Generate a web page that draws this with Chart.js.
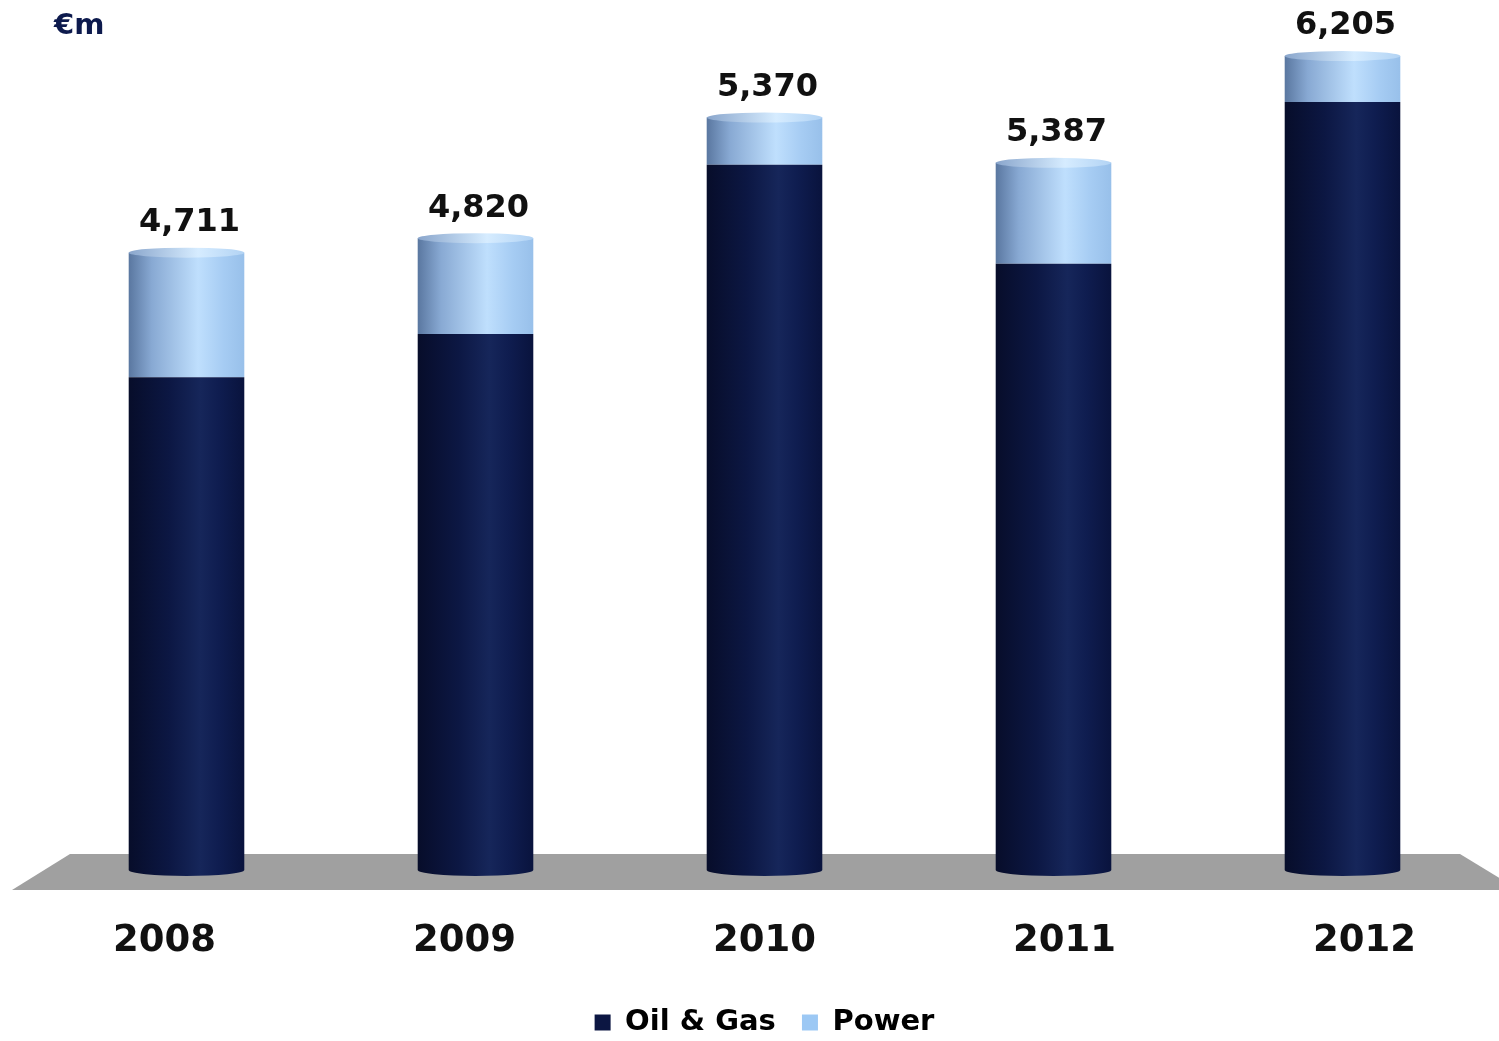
<!DOCTYPE html>
<html>
<head>
<meta charset="utf-8">
<script src="https://cdn.jsdelivr.net/npm/chart.js@4.4.1/dist/chart.umd.min.js"></script>
<style>
  html, body { margin: 0; padding: 0; background: #fff; }
  #wrap { width: 1499px; height: 1041px; position: relative; }
</style>
</head>
<body>
<div id="wrap"><canvas id="myChart"></canvas></div>
<script>
// values (bar heights), totals as printed above the bars
const years = ['2008', '2009', '2010', '2011', '2012'];
const oilGas = [3760, 4090, 5380, 4625, 5860];
const power = [950, 730, 360, 770, 350];
const totals = ['4,711', '4,820', '5,370', '5,387', '6,205'];

const FONT = "'DejaVu Sans', Verdana, sans-serif";
const darkStops = [[0, '#070d2a'], [0.35, '#0c1743'], [0.62, '#16265a'], [0.78, '#0f1d50'], [1, '#09133d']];
const lightStops = [[0, '#5a77a0'], [0.2, '#88a9d3'], [0.6, '#bfdffd'], [0.82, '#a6ccf3'], [1, '#98c0ea']];
const capStops = [[0, '#8aa6cc'], [0.6, '#d6ecff'], [1, '#b2d3f4']];

function barGradient(c, idx, stops) {
    const a = c.chartArea;
    if (!a || !c.scales.x) return stops[2][1];
    const x = c.scales.x.getPixelForValue(idx);
    const w = (a.width / years.length) * 0.4;
    const g = c.ctx.createLinearGradient(x - w / 2, 0, x + w / 2, 0);
    stops.forEach(s => g.addColorStop(s[0], s[1]));
    return g;
}

// grey floor under the bars
const floorPlugin = {
    id: 'floor',
    beforeDatasetsDraw(chart) {
        const { ctx, chartArea: a, width } = chart;
        ctx.save();
        ctx.fillStyle = '#a0a0a0';
        ctx.beginPath();
        ctx.moveTo(a.left + 28, a.bottom - 16);
        ctx.lineTo(a.right - 27, a.bottom - 16);
        ctx.lineTo(width + 20, a.bottom + 20);
        ctx.lineTo(a.left - 30, a.bottom + 20);
        ctx.closePath();
        ctx.fill();
        ctx.restore();
    }
};

// cylinder caps, value labels, year labels, unit
const decoPlugin = {
    id: 'deco',
    afterDatasetsDraw(chart) {
        const { ctx, chartArea: a } = chart;
        const bottomMeta = chart.getDatasetMeta(0);
        const topMeta = chart.getDatasetMeta(1);
        ctx.save();
        bottomMeta.data.forEach((el, i) => {
            const rx = el.width / 2;
            ctx.fillStyle = barGradient(chart, i, darkStops);
            ctx.beginPath();
            ctx.ellipse(el.x, el.base, rx, 6, 0, 0, Math.PI);
            ctx.fill();
        });
        topMeta.data.forEach((el, i) => {
            const rx = el.width / 2;
            ctx.fillStyle = barGradient(chart, i, capStops);
            ctx.beginPath();
            ctx.ellipse(el.x, el.y, rx, 5, 0, 0, Math.PI * 2);
            ctx.fill();

            ctx.fillStyle = '#111';
            ctx.font = 'bold 32px ' + FONT;
            ctx.textAlign = 'center';
            ctx.textBaseline = 'middle';
            ctx.fillText(totals[i], el.x + 3, el.y - 30);
        });

        // year labels spread a little wider than the bars (perspective)
        const mid = (a.left + a.right) / 2;
        ctx.font = 'bold 37px ' + FONT;
        ctx.fillStyle = '#111';
        years.forEach((y, i) => {
            const x = chart.scales.x.getPixelForValue(i);
            ctx.fillText(y, mid + (x - mid) * 300 / 289, a.bottom + 71);
        });

        ctx.font = 'bold 29px ' + FONT;
        ctx.fillStyle = '#0d1a4d';
        ctx.textAlign = 'left';
        ctx.fillText('€m', 54, 26);
        ctx.restore();
    }
};

const ctx = document.getElementById('myChart');
new Chart(ctx, {
    type: 'bar',
    data: {
        labels: years,
        datasets: [{
            label: 'Oil & Gas',
            data: oilGas,
            backgroundColor: c => barGradient(c.chart, c.dataIndex, darkStops),
            borderWidth: 0
        }, {
            label: 'Power',
            data: power,
            backgroundColor: c => barGradient(c.chart, c.dataIndex, lightStops),
            borderWidth: 0
        }]
    },
    options: {
        responsive: true,
        maintainAspectRatio: false,
        animation: false,
        layout: { padding: { top: 18, left: 42, right: 12, bottom: -6 } },
        datasets: { bar: { barPercentage: 0.4, categoryPercentage: 1 } },
        scales: {
            x: {
                stacked: true,
                grid: { display: false },
                border: { display: false },
                ticks: { display: false },
                afterFit: axis => { axis.height = 132; }
            },
            y: {
                stacked: true,
                display: false,
                min: 0,
                max: 6500
            }
        },
        plugins: {
            tooltip: { enabled: false },
            legend: {
                display: true,
                position: 'bottom',
                labels: {
                    boxWidth: 16,
                    boxHeight: 16,
                    padding: 6,
                    color: '#111',
                    font: { family: FONT, size: 29, weight: 'bold' },
                    generateLabels: () => [
                        { text: 'Oil & Gas  ', fillStyle: '#0c1642', strokeStyle: '#0c1642', lineWidth: 0, datasetIndex: 0 },
                        { text: 'Power', fillStyle: '#9cc8f4', strokeStyle: '#9cc8f4', lineWidth: 0, datasetIndex: 1 }
                    ]
                }
            }
        }
    },
    plugins: [floorPlugin, decoPlugin]
});
</script>
</body>
</html>
